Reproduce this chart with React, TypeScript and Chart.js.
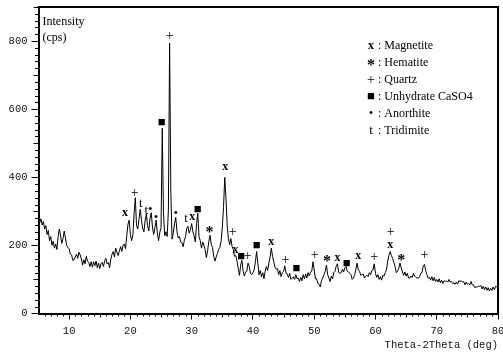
import React, { useEffect, useRef } from 'react';
import { Chart, registerables } from 'chart.js';

Chart.register(...registerables);

// Scan: start angle and step of the recorded pattern (deg 2θ)
const START_ANGLE = 5;
const STEP_ANGLE = 0.2;

// Intensity (cps), one value per 0.2° step from 5.0° to 80.0°
const intensity: number[] = [
  // 5.0 – 9.8
  280, 266, 278, 260, 270, 248, 258, 232, 244, 214, 226, 200, 212, 192, 204, 188, 226, 248, 228, 206, 220, 242, 222, 200, 194,
  // 10.0 – 14.8
  190, 174, 172, 156, 158, 166, 174, 162, 180, 172, 160, 142, 158, 146, 168, 154, 150, 138, 152, 136, 152, 140, 154, 134, 148,
  // 15.0 – 19.8
  132, 146, 150, 138, 154, 162, 146, 150, 134, 160, 174, 182, 166, 192, 180, 170, 184, 196, 182, 200, 204, 190, 228, 262, 274,
  // 20.0 – 24.8
  232, 214, 230, 292, 340, 258, 248, 276, 306, 276, 250, 240, 272, 292, 258, 242, 278, 296, 254, 232, 252, 274, 236, 214, 238,
  // 25.0 – 29.8
  252, 544, 296, 228, 240, 226, 302, 794, 356, 218, 236, 264, 282, 242, 222, 226, 210, 208, 196, 214, 226, 250, 256, 236, 246,
  // 30.0 – 34.8
  264, 240, 228, 210, 264, 294, 226, 214, 192, 210, 200, 188, 164, 184, 212, 230, 202, 194, 168, 154, 166, 176, 188, 194, 212,
  // 35.0 – 39.8
  252, 312, 400, 338, 258, 220, 202, 220, 196, 188, 168, 170, 154, 132, 112, 142, 156, 124, 110, 122, 124, 148, 138, 118, 114,
  // 40.0 – 44.8
  120, 128, 152, 182, 148, 114, 126, 108, 120, 102, 124, 138, 126, 148, 166, 192, 168, 152, 136, 130, 132, 114, 126, 108, 120,
  // 45.0 – 49.8
  124, 140, 118, 116, 106, 118, 100, 104, 108, 100, 114, 102, 104, 94, 106, 96, 114, 102, 116, 104, 120, 110, 122, 124, 152,
  // 50.0 – 54.8
  128, 102, 102, 88, 86, 78, 98, 104, 114, 124, 142, 114, 104, 94, 110, 102, 120, 124, 140, 146, 120, 118, 120, 130, 122,
  // 55.0 – 59.8
  134, 138, 124, 122, 118, 114, 100, 104, 112, 130, 148, 128, 124, 112, 114, 116, 104, 110, 112, 108, 120, 114, 126, 128, 146,
  // 60.0 – 64.8
  118, 106, 114, 100, 108, 98, 112, 110, 120, 128, 154, 170, 182, 170, 162, 150, 138, 120, 124, 132, 148, 134, 122, 112, 122,
  // 65.0 – 69.8
  110, 118, 104, 104, 110, 106, 118, 110, 106, 104, 104, 108, 118, 120, 140, 144, 126, 114, 104, 106, 98, 108, 96, 106, 94,
  // 70.0 – 74.8
  100, 92, 102, 90, 98, 88, 96, 94, 96, 92, 100, 92, 94, 88, 90, 86, 92, 86, 96, 94, 96, 92, 94, 84, 92,
  // 75.0 – 80.0
  86, 88, 84, 94, 84, 84, 76, 78, 78, 80, 80, 82, 72, 80, 70, 78, 68, 76, 66, 74, 68, 78, 70, 80, 78, 82,
];

const xTickValues = [10, 20, 30, 40, 50, 60, 70, 80];
const yTickValues = [0, 200, 400, 600, 800];
const X_MIN = 5;
const X_MAX = 80;
const Y_MIN = 0;
const Y_MAX = 900;

// Phase markers: angle, intensity level of the marker, symbol
const markerAngles = [19.1, 20.7, 21.7, 22.6, 23.25, 24.2, 25.1, 26.4, 27.4, 29.1, 30.1, 31.0, 32.9, 35.5, 36.7, 37.15, 38.1, 39.15, 40.6, 43.0, 45.3, 47.1, 50.1, 52.1, 53.8, 55.3, 57.2, 59.8, 62.5, 62.4, 64.2, 68.0];
const markerLevels = [294, 353, 323, 303, 306, 283, 562, 815, 293, 279, 283, 306, 247, 429, 237, 188, 168, 168, 198, 210, 156, 131, 171, 161, 164, 148, 168, 164, 238, 202, 163, 170];
const markerSymbols = ['x', '+', 't', 't', '•', '•', '■', '+', '•', 't', 'x', '■', '*', 'x', '+', 'x', '■', '+', '■', 'x', '+', '■', '+', '*', 'x', '■', 'x', '+', '+', 'x', '*', '+'];

const legendSymbols = ['x', '*', '+', '■', '•', 't'];
const legendNames = ['Magnetite', 'Hematite', 'Quartz', 'Unhydrate CaSO4', 'Anorthite', 'Tridimite'];

const yTitleLines = ['Intensity', '(cps)'];
const xTitle = 'Theta-2Theta (deg)';

const SERIF = '"Liberation Serif", "Times New Roman", serif';
const MONO = '"Liberation Mono", "Courier New", monospace';

function drawSymbol(ctx: CanvasRenderingContext2D, sym: string, x: number, y: number) {
  ctx.fillStyle = '#000';
  ctx.textAlign = 'center';
  ctx.textBaseline = 'middle';
  if (sym === 'x') {
    ctx.font = `bold 12px ${SERIF}`;
    ctx.fillText('x', x, y);
  } else if (sym === '*') {
    ctx.font = `bold 16px ${SERIF}`;
    ctx.fillText('*', x, y + 3);
  } else if (sym === '+') {
    ctx.font = `14px ${SERIF}`;
    ctx.fillText('+', x, y);
  } else if (sym === '■') {
    ctx.font = `13px ${SERIF}`;
    ctx.fillText('■', x, y);
  } else if (sym === '•') {
    ctx.font = `13px ${SERIF}`;
    ctx.fillText('•', x, y);
  } else {
    ctx.font = `13px ${SERIF}`;
    ctx.fillText(sym, x, y);
  }
}

const decorPlugin = {
  id: 'xrdDecor',
  afterDraw(chart: any) {
    const { ctx, chartArea: a, scales } = chart;
    const xs = scales.x;
    const ys = scales.y;
    ctx.save();

    // frame (top and right)
    ctx.strokeStyle = '#000';
    ctx.lineWidth = 2;
    ctx.beginPath();
    ctx.moveTo(a.left - 1, a.top);
    ctx.lineTo(a.right, a.top);
    ctx.lineTo(a.right, a.bottom + 1);
    ctx.stroke();

    // minor ticks
    ctx.lineWidth = 1;
    ctx.beginPath();
    for (let v = X_MIN + 1; v < X_MAX; v++) {
      if (v % 10 === 0) continue;
      const px = Math.round(xs.getPixelForValue(v)) + 0.5;
      const len = v % 5 === 0 ? 4 : 3;
      ctx.moveTo(px, a.bottom);
      ctx.lineTo(px, a.bottom + len);
    }
    for (let v = Y_MIN + 20; v <= Y_MAX; v += 20) {
      if (v % 200 === 0) continue;
      const py = Math.round(ys.getPixelForValue(v)) + 0.5;
      const len = v % 100 === 0 ? 5 : 3.5;
      ctx.moveTo(a.left - len, py);
      ctx.lineTo(a.left, py);
    }
    ctx.stroke();

    // axis titles
    ctx.fillStyle = '#000';
    ctx.font = `12px ${SERIF}`;
    ctx.textAlign = 'left';
    ctx.textBaseline = 'middle';
    yTitleLines.forEach((t, i) => ctx.fillText(t, a.left + 4, a.top + 15 + i * 16));

    ctx.font = `10.5px ${MONO}`;
    ctx.fillStyle = '#111';
    ctx.textAlign = 'right';
    ctx.fillText(xTitle, a.right, a.bottom + 32);

    // phase markers
    markerAngles.forEach((ang, i) => {
      drawSymbol(ctx, markerSymbols[i], xs.getPixelForValue(ang), ys.getPixelForValue(markerLevels[i]));
    });

    // legend
    const lx = 371;
    const ly = 46;
    legendSymbols.forEach((s, i) => {
      const y = ly + i * 17;
      drawSymbol(ctx, s, lx, y);
      ctx.font = `12px ${SERIF}`;
      ctx.fillStyle = '#000';
      ctx.textAlign = 'left';
      ctx.textBaseline = 'middle';
      ctx.fillText(': ' + legendNames[i], lx + 7, y);
    });

    ctx.restore();
  },
};

export default function App() {
  const ref = useRef<HTMLCanvasElement>(null);

  useEffect(() => {
    if (!ref.current) return;
    const points = intensity.map((v, i) => ({
      x: Math.round((START_ANGLE + i * STEP_ANGLE) * 10) / 10,
      y: v,
    }));
    const tickFont = { family: MONO, size: 10.5 };
    const chart = new Chart(ref.current, {
      type: 'line',
      data: {
        datasets: [
          {
            data: points,
            borderColor: '#000',
            borderWidth: 1,
            pointRadius: 0,
            tension: 0,
            fill: false,
          },
        ],
      },
      options: {
        responsive: false,
        animation: false,
        events: [],
        layout: { padding: { left: 0, top: 7, right: 5, bottom: 0 } },
        plugins: { legend: { display: false }, tooltip: { enabled: false } },
        scales: {
          x: {
            type: 'linear',
            min: X_MIN,
            max: X_MAX,
            afterBuildTicks: (s: any) => {
              s.ticks = xTickValues.map((v) => ({ value: v }));
            },
            afterFit: (s: any) => {
              s.height = 42.5;
              s.paddingLeft = 0;
              s.paddingRight = 0;
            },
            ticks: { autoSkip: false, maxRotation: 0, padding: 5, font: tickFont, color: '#111' },
            grid: { drawOnChartArea: false, drawTicks: true, tickLength: 6, color: '#000', lineWidth: 1 },
            border: { display: true, color: '#000', width: 2 },
          },
          y: {
            type: 'linear',
            min: Y_MIN,
            max: Y_MAX,
            afterBuildTicks: (s: any) => {
              s.ticks = yTickValues.map((v) => ({ value: v }));
            },
            afterFit: (s: any) => {
              s.width = 38.5;
              s.paddingTop = 0;
              s.paddingBottom = 0;
            },
            ticks: { padding: 4, font: tickFont, color: '#111' },
            grid: { drawOnChartArea: false, drawTicks: true, tickLength: 7, color: '#000', lineWidth: 1 },
            border: { display: true, color: '#000', width: 2 },
          },
        },
      },
      plugins: [decorPlugin],
    } as any);
    return () => chart.destroy();
  }, []);

  return (
    <div style={{ position: 'fixed', left: 0, top: 0, width: 503, height: 356, background: '#fff' }}>
      <canvas ref={ref} width={503} height={356} style={{ display: 'block' }} />
    </div>
  );
}
